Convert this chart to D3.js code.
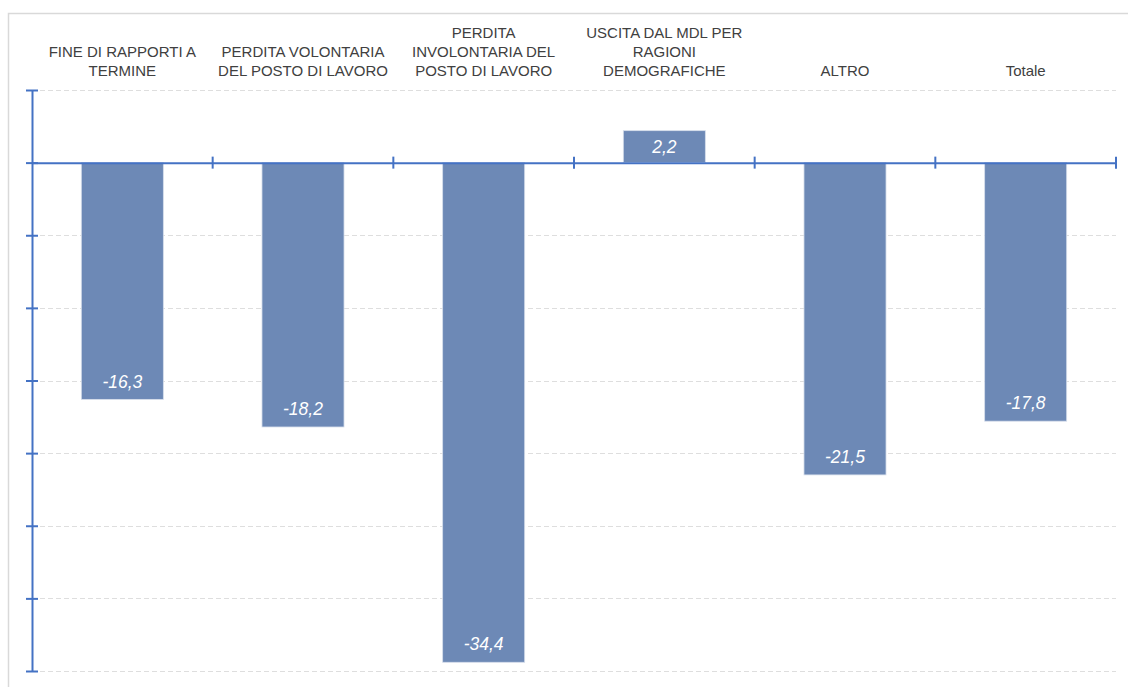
<!DOCTYPE html>
<html>
<head>
<meta charset="utf-8">
<script src="https://cdn.jsdelivr.net/npm/d3@7"></script>
<style>
  body { margin: 0; background: #fff; }
  svg { display: block; font-family: Arial, "Liberation Sans", sans-serif; }
</style>
</head>
<body>
<svg width="1128" height="687"></svg>
<script>
const categories = [
  ["FINE DI RAPPORTI A", "TERMINE"],
  ["PERDITA VOLONTARIA", "DEL POSTO DI LAVORO"],
  ["PERDITA", "INVOLONTARIA DEL", "POSTO DI LAVORO"],
  ["USCITA DAL MDL PER", "RAGIONI", "DEMOGRAFICHE"],
  ["ALTRO"],
  ["Totale"]
];
const values = [-16.3, -18.2, -34.4, 2.2, -21.5, -17.8];
const yTicks = [5, 0, -5, -10, -15, -20, -25, -30, -35];

const svg = d3.select("svg");
const plot = {left: 32, right: 1116, top: 90, bottom: 671};
const axisColor = "#4472C4";
const barColor = "#6D89B6";

// frame
svg.append("rect")
  .attr("x", 8.5).attr("y", 13.5)
  .attr("width", 1130).attr("height", 690)
  .attr("fill", "none").attr("stroke", "#d9d9d9").attr("stroke-width", 1.5);

const x = d3.scaleBand()
  .domain(d3.range(categories.length))
  .range([plot.left, plot.right])
  .paddingInner(0.546)
  .paddingOuter(0.273);

const y = d3.scaleLinear()
  .domain([-35, 5])
  .range([plot.bottom, plot.top]);

// gridlines
svg.append("g")
  .selectAll("line")
  .data(yTicks.filter(t => t !== 0))
  .enter()
  .append("line")
  .attr("x1", plot.left).attr("x2", plot.right)
  .attr("y1", d => Math.round(y(d)) + 0.5)
  .attr("y2", d => Math.round(y(d)) + 0.5)
  .attr("stroke", "#dedede")
  .attr("stroke-dasharray", "5,3");

// bars
svg.append("g")
  .selectAll("rect")
  .data(values)
  .enter()
  .append("rect")
  .attr("x", (d, i) => x(i))
  .attr("width", x.bandwidth())
  .attr("y", d => y(Math.max(0, d)))
  .attr("height", d => Math.abs(y(d) - y(0)))
  .attr("fill", barColor)
  .attr("stroke", "#d6deeb")
  .attr("stroke-width", 0.8);

// value labels
const fmt = d => d3.format(".1f")(d).replace(".", ",").replace("−", "-");
svg.append("g")
  .selectAll("text")
  .data(values)
  .enter()
  .append("text")
  .attr("x", (d, i) => x(i) + x.bandwidth() / 2)
  .attr("y", d => {
    const end = y(d), zero = y(0);
    const mid = (end + zero) / 2;
    return d < 0 ? Math.max(mid, end - 18) : Math.min(mid, end + 18);
  })
  .attr("dy", "0.35em")
  .attr("text-anchor", "middle")
  .attr("fill", "#fff")
  .style("font-style", "italic")
  .style("font-size", "17.5px")
  .text(fmt);

// y axis
const yAxis = d3.axisLeft(y).tickValues(yTicks).tickSizeOuter(0).tickFormat("");
const gy = svg.append("g")
  .attr("transform", `translate(${plot.left},0)`)
  .call(yAxis);
gy.selectAll("line").attr("x1", -6).attr("x2", 6);
gy.selectAll("line, path").attr("stroke", axisColor).attr("stroke-width", 2);

// x axis at zero
const xAxis = d3.axisBottom(x).tickSize(0).tickFormat("");
const gx = svg.append("g")
  .attr("transform", `translate(0,${y(0)})`)
  .call(xAxis);
gx.select("path").attr("stroke", axisColor).attr("stroke-width", 2);
gx.selectAll(".tick").remove();
gx.selectAll(".sep")
  .data(d3.range(1, categories.length + 1))
  .enter()
  .append("line")
  .attr("x1", i => plot.left + i * x.step())
  .attr("x2", i => plot.left + i * x.step())
  .attr("y1", -6).attr("y2", 6)
  .attr("stroke", axisColor).attr("stroke-width", 2);

// category labels at top, bottom aligned
const lab = svg.append("g")
  .selectAll("text")
  .data(categories)
  .enter()
  .append("text")
  .attr("text-anchor", "middle")
  .attr("fill", "#404040")
  .style("font-size", "15px");
lab.each(function(lines, i) {
  const t = d3.select(this);
  lines.forEach((s, k) => {
    t.append("tspan")
      .attr("x", x(i) + x.bandwidth() / 2)
      .attr("y", 76 - (lines.length - 1 - k) * 19)
      .text(s);
  });
});
</script>
</body>
</html>
